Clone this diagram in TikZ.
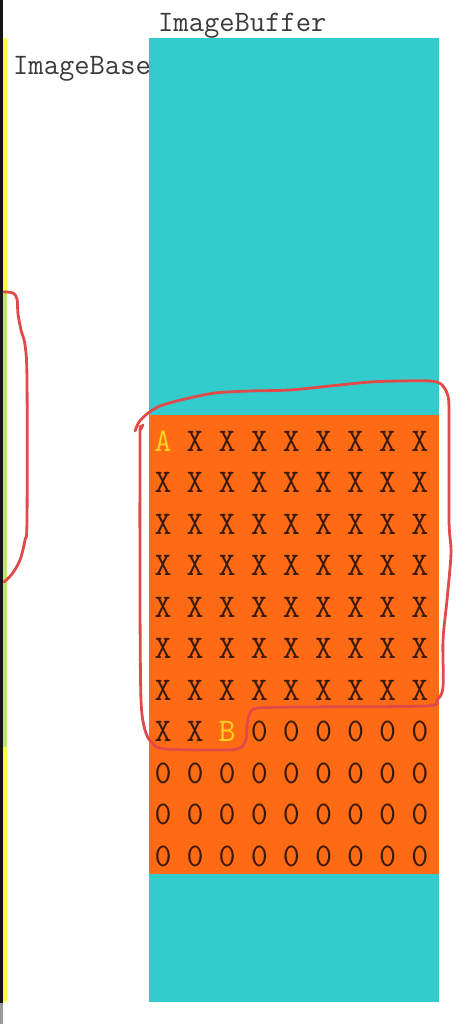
\documentclass[tikz,border=0pt]{standalone}
\usepackage{fontspec}
\definecolor{bufcyan}{HTML}{33CCCC}
\definecolor{bloborange}{HTML}{FF6A14}
\definecolor{celltext}{HTML}{3B1A05}
\definecolor{markyellow}{HTML}{FFD21F}
\definecolor{pen}{HTML}{E24A4A}
\definecolor{lbltext}{HTML}{3A3A3A}
\definecolor{stripeyellow}{HTML}{FFFF45}
\definecolor{stripegreen}{HTML}{BDE27A}
\definecolor{stripeblack}{HTML}{151515}
\definecolor{stripegray}{HTML}{9A9A9A}
\begin{document}
\begin{tikzpicture}[x=1pt,y=-1pt,
  lbl/.style={inner sep=0pt,anchor=base west,text=lbltext,font=\ttfamily\fontsize{29.7}{30}\selectfont},
  cell/.style={inner sep=0pt,anchor=base,text=celltext,font=\ttfamily\fontsize{33}{34}\selectfont},
  markcell/.style={cell,text=markyellow},
  penline/.style={draw=pen,line width=2.8pt,line cap=round,line join=round}]
\useasboundingbox (0,0) rectangle (466,1024);
\fill[white] (0,0) rectangle (466,1024);
% left edge stripes
\fill[stripeblack] (0,0) rectangle (3.4,1003);
\fill[stripegray] (0,1003) rectangle (3.4,1024);
\fill[stripeyellow] (3.4,38) rectangle (6.6,290);
\fill[stripegreen] (3.4,290) rectangle (6.6,747);
\fill[stripeyellow] (3.4,747) rectangle (6.6,1002);
% buffer
\fill[bufcyan] (149,38) rectangle (439,1002);
\fill[bloborange] (149,415) rectangle (439,874);
% labels
\node[lbl] (buf) at (158,32) {ImageBuffer};
\node[lbl] (base) at (13,75) {ImageBase};
% grid
\foreach \j in {0,...,10}{
  \foreach \i in {0,...,8}{
    \pgfmathtruncatemacro{\idx}{\j*9+\i}
    \ifnum\idx=0
      \node[markcell] (c-\i-\j) at ({163+32.1*\i},{451+41.5*\j}) {A};
    \else\ifnum\idx=65
      \node[markcell] (c-\i-\j) at ({163+32.1*\i},{451+41.5*\j}) {B};
    \else\ifnum\idx<65
      \node[cell] (c-\i-\j) at ({163+32.1*\i},{451+41.5*\j}) {X};
    \else
      \node[cell] (c-\i-\j) at ({163+32.1*\i},{451+41.5*\j}) {0};
    \fi\fi\fi
  }
}
% red freehand annotations
\draw[penline] plot[smooth,tension=0.55] coordinates {
  (4,292) (13,293) (17,299) (18,314) (21,330) (25,345) (27,380) (27,520)
  (25,540) (20,560) (12,574) (4,582)};
\draw[penline] plot[smooth,tension=0.5] coordinates {
  (135,431) (139,422) (147,414) (160,406) (185,399) (215,393) (250,391)
  (290,390) (330,386) (370,382) (400,381) (430,381) (441,384) (448,396)
  (449,420) (449,520) (451,553) (447,600) (443,640) (443,687) (437,700)
  (425,706) (300,707) (258,708) (250,713) (247,725) (246,740) (240,748)
  (225,750) (165,749) (152,743) (145,730) (141,700) (140,600) (140,440)
  (141,429) (143,425)};
\end{tikzpicture}
\end{document}
